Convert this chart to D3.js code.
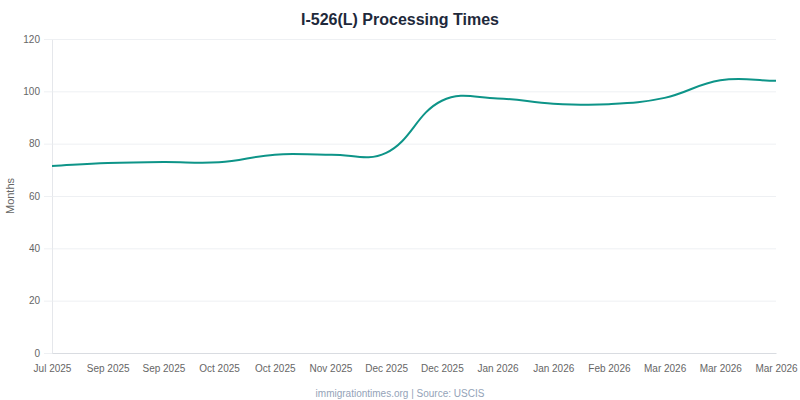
<!DOCTYPE html>
<html>
<head>
<meta charset="utf-8">
<script src="https://cdn.jsdelivr.net/npm/d3@7"></script>
<style>
    body { margin: 0; background: #fff; }
    svg { display: block; font-family: "Liberation Sans", Arial, Helvetica, sans-serif; }
</style>
</head>
<body>
<svg id="chart" width="800" height="400"></svg>
<script>
// Datos
const labels = ['Jul 2025', 'Sep 2025', 'Sep 2025', 'Oct 2025', 'Oct 2025', 'Nov 2025', 'Dec 2025',
    'Dec 2025', 'Jan 2026', 'Jan 2026', 'Feb 2026', 'Mar 2026', 'Mar 2026', 'Mar 2026'];
const months = [71.5, 72.6, 73.0, 72.9, 75.8, 75.8, 76.5, 96.4, 97.3, 95.3, 95.1, 97.5, 104.2, 104.0];
const yTicks = [0, 20, 40, 60, 80, 100, 120];

const W = 800, H = 400;
const margin = { top: 39, right: 24, bottom: 47, left: 52 };
const svg = d3.select('#chart');

const x = d3.scalePoint()
    .domain(d3.range(labels.length))
    .range([margin.left, W - margin.right]);

const y = d3.scaleLinear()
    .domain([0, 120])
    .range([H - margin.bottom, margin.top]);

// Título
svg.append('text')
    .attr('x', W / 2).attr('y', 25)
    .attr('text-anchor', 'middle')
    .attr('font-size', 16).attr('font-weight', 'bold')
    .attr('fill', '#1e293b')
    .text('I-526(L) Processing Times');

// Rejilla horizontal + ticks del eje Y
const yAxis = svg.append('g')
    .attr('transform', `translate(${margin.left},0)`)
    .call(d3.axisLeft(y).tickValues(yTicks).tickSize(8).tickPadding(4));
yAxis.select('.domain').attr('stroke', '#e5e7eb');
yAxis.selectAll('.tick line').attr('stroke', '#eef0f3');
yAxis.selectAll('.tick text').attr('fill', '#666').attr('font-size', 10).attr('font-family', null);

svg.append('g')
    .selectAll('line')
    .data(yTicks.filter(d => d > 0))
    .enter().append('line')
    .attr('x1', margin.left + 0.5).attr('x2', W - margin.right)
    .attr('y1', d => y(d) + 0.5).attr('y2', d => y(d) + 0.5)
    .attr('stroke', '#eef0f3');

// Eje X
const xAxis = svg.append('g')
    .attr('transform', `translate(0,${H - margin.bottom})`)
    .call(d3.axisBottom(x).tickSize(0).tickPadding(12).tickFormat(i => labels[i]));
xAxis.select('.domain').attr('stroke', '#d9dce1');
xAxis.selectAll('.tick text').attr('fill', '#666').attr('font-size', 10).attr('font-family', null);

// Etiqueta del eje Y
svg.append('text')
    .attr('transform', `translate(14,${(margin.top + H - margin.bottom) / 2}) rotate(-90)`)
    .attr('text-anchor', 'middle')
    .attr('font-size', 11)
    .attr('fill', '#666')
    .text('Months');

// Curva tipo Chart.js (tension 0.4)
function splinePath(pts, tension) {
    const ctrl = pts.map((p, i) => {
        const prev = pts[i - 1] || p, next = pts[i + 1] || p;
        const d01 = Math.hypot(p[0] - prev[0], p[1] - prev[1]);
        const d12 = Math.hypot(next[0] - p[0], next[1] - p[1]);
        const s01 = d01 + d12 ? d01 / (d01 + d12) : 0;
        const s12 = d01 + d12 ? d12 / (d01 + d12) : 0;
        const fa = tension * s01, fb = tension * s12;
        return {
            prev: [p[0] - fa * (next[0] - prev[0]), p[1] - fa * (next[1] - prev[1])],
            next: [p[0] + fb * (next[0] - prev[0]), p[1] + fb * (next[1] - prev[1])]
        };
    });
    const path = d3.path();
    path.moveTo(pts[0][0], pts[0][1]);
    for (let i = 1; i < pts.length; i++) {
        path.bezierCurveTo(ctrl[i - 1].next[0], ctrl[i - 1].next[1],
            ctrl[i].prev[0], ctrl[i].prev[1], pts[i][0], pts[i][1]);
    }
    return path.toString();
}

const points = months.map((v, i) => [x(i), y(v)]);

svg.append('path')
    .attr('d', splinePath(points, 0.4))
    .attr('fill', 'none')
    .attr('stroke', '#0d9488')
    .attr('stroke-width', 2);

// Pie
svg.append('text')
    .attr('x', W / 2).attr('y', 397)
    .attr('text-anchor', 'middle')
    .attr('font-size', 10)
    .attr('fill', '#94a3b8')
    .text('immigrationtimes.org | Source: USCIS');
</script>
</body>
</html>
